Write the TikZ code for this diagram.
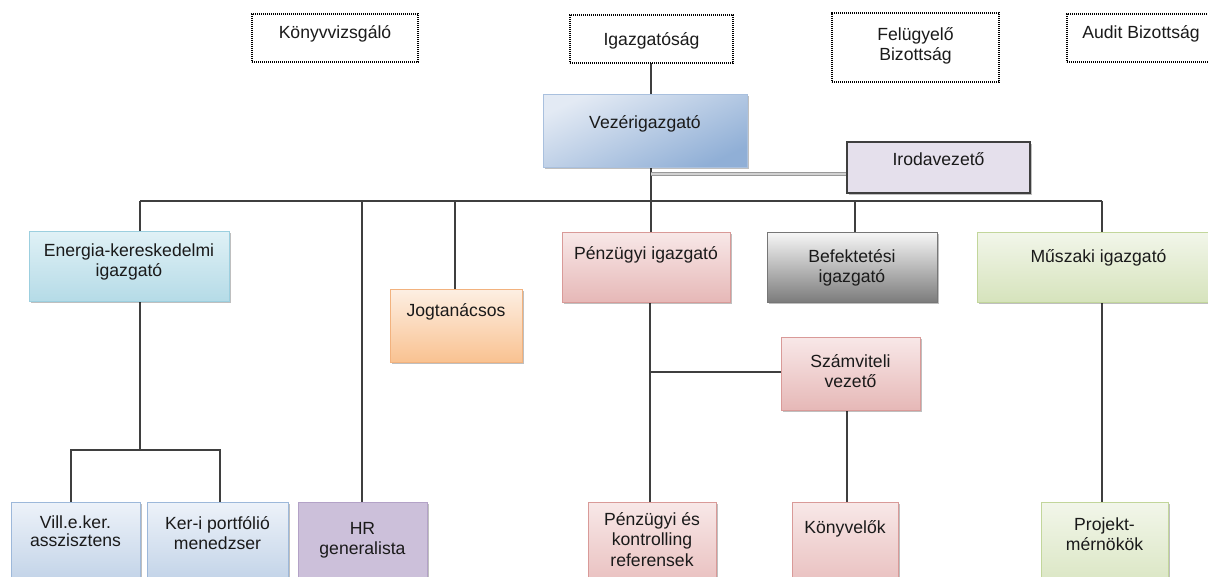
\documentclass[tikz,border=0pt]{standalone}
\usepackage{fontspec}
\setmainfont{Liberation Sans}
\usetikzlibrary{shadows,backgrounds}
\definecolor{lineC}{HTML}{3F3F3F}
\definecolor{txtC}{HTML}{1A1A1A}
\definecolor{vezT}{HTML}{E3EAF4}
\definecolor{vezB}{HTML}{90AFD6}
\definecolor{vezD}{HTML}{A9C0DE}
\definecolor{enT}{HTML}{E0F1F6}
\definecolor{enB}{HTML}{B5DBE7}
\definecolor{enD}{HTML}{9CCFDF}
\definecolor{jogT}{HTML}{FDEFE3}
\definecolor{jogB}{HTML}{F9C291}
\definecolor{jogD}{HTML}{F2B27E}
\definecolor{penT}{HTML}{F8E8E8}
\definecolor{penB}{HTML}{E6B8B7}
\definecolor{penD}{HTML}{D99A98}
\definecolor{befT}{HTML}{F7F7F7}
\definecolor{befB}{HTML}{7C7C7C}
\definecolor{befD}{HTML}{767676}
\definecolor{musT}{HTML}{F2F6EA}
\definecolor{musB}{HTML}{D6E3BC}
\definecolor{musD}{HTML}{C2D69B}
\definecolor{blT}{HTML}{EDF2F9}
\definecolor{blB}{HTML}{B8CCE4}
\definecolor{blD}{HTML}{9DB8DA}
\definecolor{hrF}{HTML}{CCC0DA}
\definecolor{hrD}{HTML}{B3A2C7}
\definecolor{iroF}{HTML}{E5E0EC}
\newcommand\obox[8]{%
  \node[#6, inner sep=0pt, outer sep=0pt, anchor=north west] (#1) at (#2,-#3)
  {\parbox[t][\dimexpr #5pt-#3pt\relax][t]{\dimexpr #4pt-#2pt\relax}{\centering\rule{0pt}{#7pt}#8\par}};%
}
\begin{document}
\begin{tikzpicture}[x=1pt,y=1pt,
  font=\fontsize{17.6}{20.8}\selectfont, text=txtC,
  conn/.style={draw=lineC, line width=1.1pt},
  shad/.style={drop shadow={shadow xshift=1.5pt, shadow yshift=-2pt, fill=black, opacity=0.25}},
  dotbox/.style={draw=black, line width=1.2pt, dash pattern=on 1.1pt off 0.9pt, fill=white},
  vezbox/.style={shad, draw=vezD, line width=0.8pt, top color=vezT, bottom color=vezB, shading angle=25},
  enbox/.style={shad, draw=enD, line width=0.8pt, top color=enT, bottom color=enB},
  jogbox/.style={shad, draw=jogD, line width=0.8pt, top color=jogT, bottom color=jogB},
  penbox/.style={shad, draw=penD, line width=0.8pt, top color=penT, bottom color=penB},
  befbox/.style={shad, draw=befD, line width=0.8pt, top color=befT, bottom color=befB},
  musbox/.style={shad, draw=musD, line width=0.8pt, top color=musT, bottom color=musB},
  blbox/.style={shad, draw=blD, line width=0.8pt, top color=blT, bottom color=blB},
  hrbox/.style={shad, draw=hrD, line width=0.8pt, fill=hrF},
  irobox/.style={shad, draw=lineC, line width=1.1pt, fill=iroF}
]
\useasboundingbox (0,0) rectangle (1208,-576);

% top dotted boxes
\obox{kv}{252}{14}{418}{62}{dotbox}{24}{Könyvvizsgáló}
\obox{ig}{570}{15}{733}{63}{dotbox}{30}{Igazgatóság}
\obox{fb}{832}{13}{999}{82}{dotbox}{27}{Felügyelő\\Bizottság}
\obox{ab}{1067}{14}{1215}{62}{dotbox}{24}{Audit Bizottság}

% boxes
\obox{vez}{543}{94}{747}{167}{vezbox}{34}{Vezérigazgató}
\obox{iro}{847}{142}{1030}{193}{irobox}{23}{Irodavezető}
\obox{en}{29}{231}{229}{301}{enbox}{25}{Energia-kereskedelmi\\igazgató}
\obox{jog}{390}{289}{522}{362}{jogbox}{27}{Jogtanácsos}
\obox{pen}{562}{232}{730}{302}{penbox}{27}{Pénzügyi igazgató}
\obox{bef}{767}{232}{937}{302}{befbox}{30}{Befektetési\\igazgató}
\obox{mus}{977}{232}{1220}{302}{musbox}{30}{Műszaki igazgató}
\obox{szv}{781}{337}{920}{410}{penbox}{30}{Számviteli\\vezető}
\obox{vill}{11}{502}{140}{600}{blbox}{26}{Vill.e.ker.\\[-2pt]asszisztens}
\obox{ker}{147}{502}{288}{600}{blbox}{27}{Ker-i portfólió\\menedzser}
\obox{hr}{298}{502}{427}{600}{hrbox}{32}{HR\\generalista}
\obox{pkr}{588}{502}{716}{600}{penbox}{23}{Pénzügyi és\\kontrolling\\referensek}
\obox{kon}{792}{502}{898}{600}{penbox}{31}{Könyvelők}
\obox{proj}{1041}{502}{1168}{600}{musbox}{28}{Projekt-\\mérnökök}

% coordinates
\coordinate (c) at (651,-201);
\coordinate (ij) at (651,-174);
\coordinate (dEn) at (140,-201);
\coordinate (dHr) at (362,-201);
\coordinate (dJog) at (455,-201);
\coordinate (dBef) at (855,-201);
\coordinate (dMu) at (1102,-201);
\coordinate (subL) at (71,-450);
\coordinate (subR) at (220,-450);
\coordinate (dPen) at (650,-372);
\coordinate (dKon) at (847,-450);

\begin{scope}[on background layer]
\fill[white] (0,0) rectangle (1208,-576);
\draw[conn] (c |- ig.south) -- (c |- vez.north);
\draw[conn] (c |- vez.south) -- (c);
\draw[draw=gray!80, line width=1pt, double=gray!35, double distance=1.2pt] (ij) -- (ij -| iro.west);
\draw[conn] (dEn) -- (dMu);
\draw[conn] (dEn) -- (dEn |- en.north);
\draw[conn] (dHr) -- (dHr |- hr.north);
\draw[conn] (dJog) -- (dJog |- jog.north);
\draw[conn] (c) -- (c |- pen.north);
\draw[conn] (dBef) -- (dBef |- bef.north);
\draw[conn] (dMu) -- (dMu |- mus.north);
\draw[conn] (dEn |- en.south) -- (dEn |- subL);
\draw[conn] (subL |- vill.north) -- (subL) -- (subR) -- (subR |- ker.north);
\draw[conn] (dPen |- pen.south) -- (dPen |- pkr.north);
\draw[conn] (dPen) -- (dPen -| szv.west);
\draw[conn] (dKon |- szv.south) -- (dKon |- kon.north);
\draw[conn] (dMu |- mus.south) -- (dMu |- proj.north);
\end{scope}
\end{tikzpicture}
\end{document}
